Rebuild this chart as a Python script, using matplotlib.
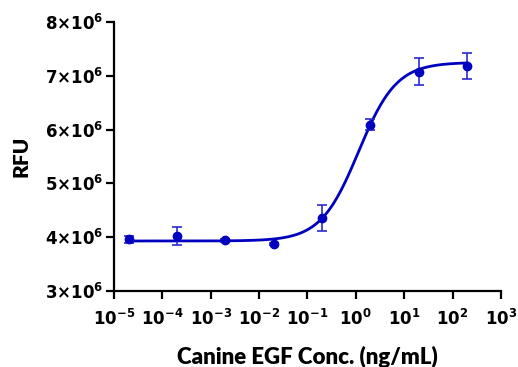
import numpy as np
import matplotlib
matplotlib.use("Agg")
import matplotlib.pyplot as plt
from matplotlib.ticker import FixedLocator, NullLocator

plt.rcParams["mathtext.fontset"] = "dejavusans"

conc = [2e-5, 2e-4, 2e-3, 2e-2, 2e-1, 2, 20, 200]
rfu = [3.96e6, 4.02e6, 3.94e6, 3.88e6, 4.35e6, 6.09e6, 7.08e6, 7.19e6]
err = [0.06e6, 0.17e6, 0.02e6, 0.02e6, 0.24e6, 0.10e6, 0.25e6, 0.24e6]

# 4PL fit parameters
bottom, top, ec50, hill = 3.93e6, 7.25e6, 1.14, 1.11

xticks = [1e-5, 1e-4, 1e-3, 1e-2, 1e-1, 1, 10, 100, 1000]
xlabels = [r"$\mathbf{10^{-5}}$", r"$\mathbf{10^{-4}}$", r"$\mathbf{10^{-3}}$", r"$\mathbf{10^{-2}}$",
           r"$\mathbf{10^{-1}}$", r"$\mathbf{10^{0}}$", r"$\mathbf{10^{1}}$", r"$\mathbf{10^{2}}$",
           r"$\mathbf{10^{3}}$"]
yticks = [3e6, 4e6, 5e6, 6e6, 7e6, 8e6]
ylabels = [r"$\mathbf{%d{\times}10^{6}}$" % v for v in [3, 4, 5, 6, 7, 8]]

color = "#0000c0"

fig = plt.figure(figsize=(5.18, 3.67), dpi=100)
ax = fig.add_axes([0.220, 0.207, 0.747, 0.733])

xs = np.logspace(np.log10(2e-5), np.log10(200), 400)
ys = bottom + (top - bottom) / (1 + (ec50 / xs) ** hill)
ax.plot(xs, ys, color=color, lw=2)
ax.errorbar(conc, rfu, yerr=err, fmt="o", color=color, ecolor="#2a2ad0",
            ms=6, elinewidth=1.2, capsize=3.5, capthick=1.2)

ax.set_xscale("log")
ax.set_xlim(1e-5, 1e3)
ax.set_ylim(3e6, 8e6)
ax.xaxis.set_major_locator(FixedLocator(xticks))
ax.xaxis.set_minor_locator(NullLocator())
ax.set_xticklabels(xlabels)
ax.set_yticks(yticks)
ax.set_yticklabels(ylabels)

for s in ["top", "right"]:
    ax.spines[s].set_visible(False)
for s in ["left", "bottom"]:
    ax.spines[s].set_linewidth(1.6)
ax.tick_params(axis="both", which="major", length=6, width=1.6, labelsize=12, colors="black")
ax.tick_params(axis="x", pad=7)
ax.tick_params(axis="y", pad=2)

ax.set_xlabel("Canine EGF Conc. (ng/mL)", fontsize=16, fontweight=800, family="Lato", labelpad=12)
ax.set_ylabel("RFU", fontsize=15, fontweight=800, family="Lato", labelpad=10)

fig.savefig("out.png", dpi=100)
